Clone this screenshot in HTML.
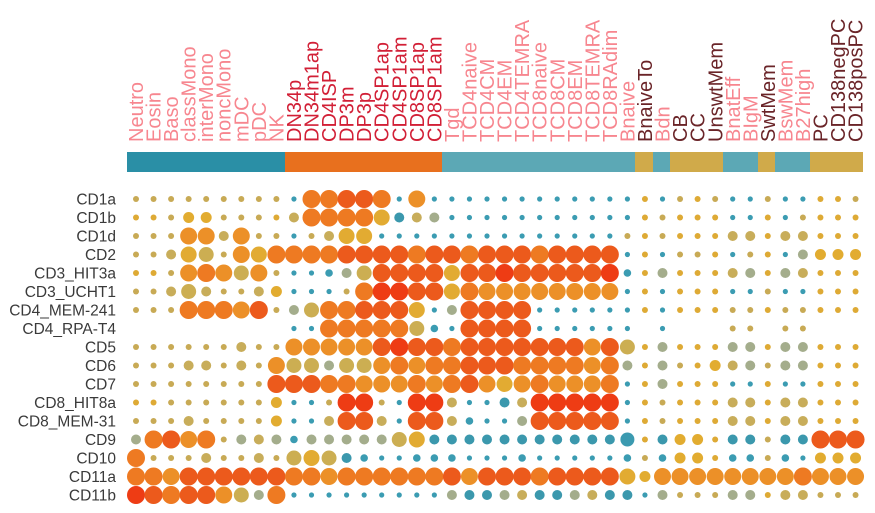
<!DOCTYPE html>
<html><head><meta charset="utf-8">
<style>
html,body{margin:0;padding:0;background:#fff;}
svg{display:block;}
.rl{font-family:"Liberation Sans",sans-serif;font-size:15.5px;fill:#3a3a3a;text-anchor:end;}
.cl{font-family:"Liberation Sans",sans-serif;font-size:20px;}
.p{fill:#f7868f;} .r{fill:#d21f36;} .d{fill:#6a2428;}
</style></head><body>
<svg id="s" width="875" height="513" viewBox="0 0 875 513" xmlns="http://www.w3.org/2000/svg">
<g id="bar">
<rect x="127" y="152" width="158" height="20" fill="#2a8fa6"/>
<rect x="285" y="152" width="157" height="20" fill="#e8701e"/>
<rect x="442" y="152" width="193" height="20" fill="#5ca8b5"/>
<rect x="635" y="152" width="18" height="20" fill="#d0aa4a"/>
<rect x="653" y="152" width="17" height="20" fill="#5ca8b5"/>
<rect x="670" y="152" width="53" height="20" fill="#d0aa4a"/>
<rect x="723" y="152" width="35" height="20" fill="#5ca8b5"/>
<rect x="758" y="152" width="17" height="20" fill="#d0aa4a"/>
<rect x="775" y="152" width="35" height="20" fill="#5ca8b5"/>
<rect x="810" y="152" width="53" height="20" fill="#d0aa4a"/>
</g>
<g class="cl">
<text class="p" transform="translate(143,142) rotate(-90)">Neutro</text>
<text class="p" transform="translate(160.5,142) rotate(-90)">Eosin</text>
<text class="p" transform="translate(178,142) rotate(-90)">Baso</text>
<text class="p" transform="translate(195.6,142) rotate(-90)">classMono</text>
<text class="p" transform="translate(213.2,142) rotate(-90)">interMono</text>
<text class="p" transform="translate(230.7,142) rotate(-90)">noncMono</text>
<text class="p" transform="translate(248.3,142) rotate(-90)">mDC</text>
<text class="p" transform="translate(265.8,142) rotate(-90)">pDC</text>
<text class="p" transform="translate(283.4,142) rotate(-90)">NK</text>
<text class="r" transform="translate(301,142) rotate(-90)">DN34p</text>
<text class="r" transform="translate(318.5,142) rotate(-90)">DN34m1ap</text>
<text class="r" transform="translate(336,142) rotate(-90)">CD4ISP</text>
<text class="r" transform="translate(353.6,142) rotate(-90)">DP3m</text>
<text class="r" transform="translate(371.2,142) rotate(-90)">DP3p</text>
<text class="r" transform="translate(388.7,142) rotate(-90)">CD4SP1ap</text>
<text class="r" transform="translate(406.3,142) rotate(-90)">CD4SP1am</text>
<text class="r" transform="translate(423.8,142) rotate(-90)">CD8SP1ap</text>
<text class="r" transform="translate(441.4,142) rotate(-90)">CD8SP1am</text>
<text class="p" transform="translate(459,142) rotate(-90)">Tgd</text>
<text class="p" transform="translate(476.5,142) rotate(-90)">TCD4naive</text>
<text class="p" transform="translate(494,142) rotate(-90)">TCD4CM</text>
<text class="p" transform="translate(511.6,142) rotate(-90)">TCD4EM</text>
<text class="p" transform="translate(529.2,142) rotate(-90)">TCD4TEMRA</text>
<text class="p" transform="translate(546.7,142) rotate(-90)">TCD8naive</text>
<text class="p" transform="translate(564.3,142) rotate(-90)">TCD8CM</text>
<text class="p" transform="translate(581.8,142) rotate(-90)">TCD8EM</text>
<text class="p" transform="translate(599.4,142) rotate(-90)">TCD8TEMRA</text>
<text class="p" transform="translate(617,142) rotate(-90)">TCD8RAdim</text>
<text class="p" transform="translate(634.5,142) rotate(-90)">Bnaive</text>
<text class="d" transform="translate(652,142) rotate(-90)">BnaiveTo</text>
<text class="p" transform="translate(669.6,142) rotate(-90)">Bdn</text>
<text class="d" transform="translate(687.2,142) rotate(-90)">CB</text>
<text class="d" transform="translate(704.7,142) rotate(-90)">CC</text>
<text class="d" transform="translate(722.3,142) rotate(-90)">UnswtMem</text>
<text class="p" transform="translate(739.8,142) rotate(-90)">BnatEff</text>
<text class="p" transform="translate(757.4,142) rotate(-90)">BIgM</text>
<text class="d" transform="translate(775,142) rotate(-90)">SwtMem</text>
<text class="p" transform="translate(792.5,142) rotate(-90)">BswMem</text>
<text class="p" transform="translate(810,142) rotate(-90)">B27high</text>
<text class="d" transform="translate(827.6,142) rotate(-90)">PC</text>
<text class="d" transform="translate(845.2,142) rotate(-90)">CD138negPC</text>
<text class="d" transform="translate(862.7,142) rotate(-90)">CD138posPC</text>
</g>
<g>
<text class="rl" x="116" y="204.5">CD1a</text>
<text class="rl" x="116" y="223">CD1b</text>
<text class="rl" x="116" y="241.5">CD1d</text>
<text class="rl" x="116" y="260">CD2</text>
<text class="rl" x="116" y="278.5">CD3_HIT3a</text>
<text class="rl" x="116" y="297">CD3_UCHT1</text>
<text class="rl" x="116" y="315.5">CD4_MEM-241</text>
<text class="rl" x="116" y="334">CD4_RPA-T4</text>
<text class="rl" x="116" y="352.5">CD5</text>
<text class="rl" x="116" y="371">CD6</text>
<text class="rl" x="116" y="389.5">CD7</text>
<text class="rl" x="116" y="408">CD8_HIT8a</text>
<text class="rl" x="116" y="426.5">CD8_MEM-31</text>
<text class="rl" x="116" y="445">CD9</text>
<text class="rl" x="116" y="463.5">CD10</text>
<text class="rl" x="116" y="482">CD11a</text>
<text class="rl" x="116" y="500.5">CD11b</text>
</g>
<g id="dots"></g>
</svg>
<script>
var rows=[
"ccccccccc"+"a"+"AAOOA"+"a"+"L"+"aaa"+"aaaaaaaaa"+"dacdcaacaaddc",
"ddchhcccd"+"e"+"AAAAY"+"gef"+"aa"+"a"+"aaaaaaaa"+"dcdddaadacddd",
"cccLLeLcc"+"a"+"ceYYa"+"aaaaa"+"aaaaaaaa"+"c"+"dcdddeedeeddd",
"cceYKcLYA"+"AAAOOOOAO"+"OA"+"OOOAOOOO"+"a"+"daccdacdafhhh",
"ddcLALKLc"+"aabfKOOOO"+"YO"+"OROOOOOR"+"b"+"dfdddefdfeddd",
"cceKecceh"+"aaacARROO"+"YA"+"LLLLLLLL"+"a"+"dadddaacaaddd",
"cccAAALOc"+"fKAAOOOYa"+"fO"+"OOOaaaaa"+"a"+"dadddccdccddd",
"         "+"aaAAAAAKb"+"aO"+"OOOaaaaa"+"a"+" a   cc cc   ",
"cccccceccc".slice(0,9)+"LLLLLOROO"+"AO"+"OOOOOOLO"+"K"+"dfdddffdffddd",
"ccceececL"+"KKfKKLALA"+"AO"+"OOAAAALA"+"f"+"dfcdhefcffddd",
"ccccccccO"+"OOAALLLAL"+"AO"+"LYLALLLA"+"a"+"dfdddaadaaddd",
"ddcccccch"+"aacRRcaRR"+"ea"+"ageRRRRR"+"a"+"dcdddeedeeddd",
"cccecccch"+"aaeOOeaOO"+"eb"+"aafOOOOO"+"a"+"dcdddeedeeddd",
"fAOLAcfef"+"bfffffKYg"+"gg"+"gggggggg"+"B"+"dghhdggcggOOO",
"Accceccec"+"KYKgbaabb"+"ba"+"aabaaaaa"+"b"+"cbhhdbbcbahhh",
"AALOOOOOO"+"AALAAAAAA"+"OL"+"OOOAOOOO"+"Y"+"hLLLLLLLLALLL",
"ROAOOLKfA"+"aaaaaaaaa"+"fg"+"gfeggfeg"+"g"+"afcccffdeeccc"];
var M={a:["#3b9cb2",2.6],b:["#3b9cb2",3.8],c:["#c8aa55",3],d:["#deaa35",3],
e:["#c8ad5a",5],f:["#a4ad8c",5],g:["#3b98ad",5],h:["#e2ac30",5.5],
R:["#ee3c14",9],O:["#ec5a1c",9],A:["#ee7a22",9],L:["#ec9028",8.5],
Y:["#e2ab32",8],K:["#ccae52",7.5],G:["#aab08a",7],B:["#3b9ab0",7]};
var g=document.getElementById("dots"),ns="http://www.w3.org/2000/svg";
rows.forEach(function(r,i){for(var j=0;j<r.length;j++){var m=M[r[j]];if(!m)continue;
var c=document.createElementNS(ns,"circle");c.setAttribute("cx",136+17.55*j);c.setAttribute("cy",199+18.5*i);
c.setAttribute("r",m[1]);c.setAttribute("fill",m[0]);g.appendChild(c);}});
</script>
</body></html>
